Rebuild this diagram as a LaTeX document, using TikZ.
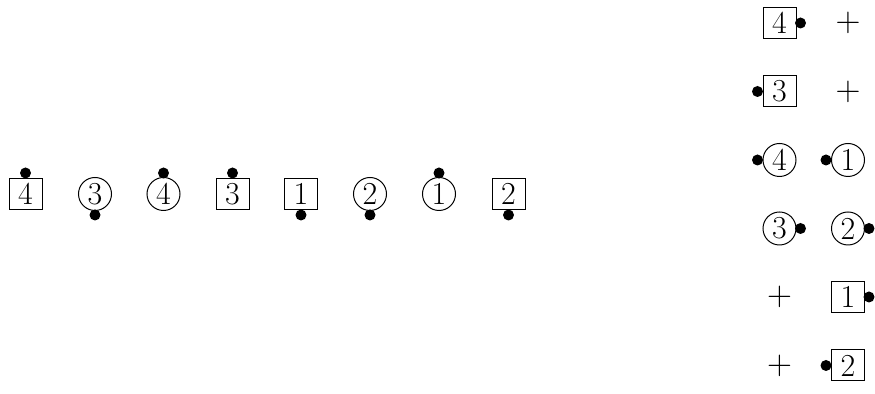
\documentclass[tikz,border=0pt]{standalone}
\begin{document}
\begin{tikzpicture}[x=0.5pt,y=-0.5pt,
  lbl/.style={inner sep=0pt, font=\fontsize{16}{19}\selectfont},
  sq/.style={lbl, draw, line width=0.5pt, minimum width=16.5pt, minimum height=15.5pt},
  cir/.style={lbl, draw, circle, line width=0.5pt, minimum size=16.5pt},
  dot/.style={circle, fill=black, inner sep=0pt, minimum size=5.5pt}]
\useasboundingbox (0,0) rectangle (875,394);
% row
\node[sq]  (r1) at (25.5,194) {4};
\node[cir] (r2) at (95,194) {3};
\node[cir] (r3) at (163.5,194) {4};
\node[sq]  (r4) at (232.5,194) {3};
\node[sq]  (r5) at (301,194) {1};
\node[cir] (r6) at (370,194) {2};
\node[cir] (r7) at (439,194) {1};
\node[sq]  (r8) at (508.5,194) {2};
\node[dot] (d1) at ([yshift=10.5pt]r1.center) {};
\node[dot] (d2) at ([yshift=-10.5pt]r2.center) {};
\node[dot] (d3) at ([yshift=10.5pt]r3.center) {};
\node[dot] (d4) at ([yshift=10.5pt]r4.center) {};
\node[dot] (d5) at ([yshift=-10.5pt]r5.center) {};
\node[dot] (d6) at ([yshift=-10.5pt]r6.center) {};
\node[dot] (d7) at ([yshift=10.5pt]r7.center) {};
\node[dot] (d8) at ([yshift=-10.5pt]r8.center) {};
% columns
\node[sq]  (a1) at (779.5,23) {4};
\node[lbl] (b1) at (848,23) {$+$};
\node[sq]  (a2) at (779.5,91.5) {3};
\node[lbl] (b2) at (848,91.5) {$+$};
\node[cir] (a3) at (779.5,160) {4};
\node[cir] (b3) at (848,160) {1};
\node[cir] (a4) at (779.5,228.5) {3};
\node[cir] (b4) at (848,228.5) {2};
\node[lbl] (a5) at (779.5,297) {$+$};
\node[sq]  (b5) at (848,297) {1};
\node[lbl] (a6) at (779.5,365.5) {$+$};
\node[sq]  (b6) at (848,365.5) {2};
\node[dot] (ea1) at ([xshift=10.5pt]a1.center) {};
\node[dot] (ea2) at ([xshift=-11pt]a2.center) {};
\node[dot] (ea3) at ([xshift=-11pt]a3.center) {};
\node[dot] (eb3) at ([xshift=-11pt]b3.center) {};
\node[dot] (ea4) at ([xshift=10.5pt]a4.center) {};
\node[dot] (eb4) at ([xshift=10.5pt]b4.center) {};
\node[dot] (eb5) at ([xshift=10.5pt]b5.center) {};
\node[dot] (eb6) at ([xshift=-11pt]b6.center) {};
\end{tikzpicture}
\end{document}
